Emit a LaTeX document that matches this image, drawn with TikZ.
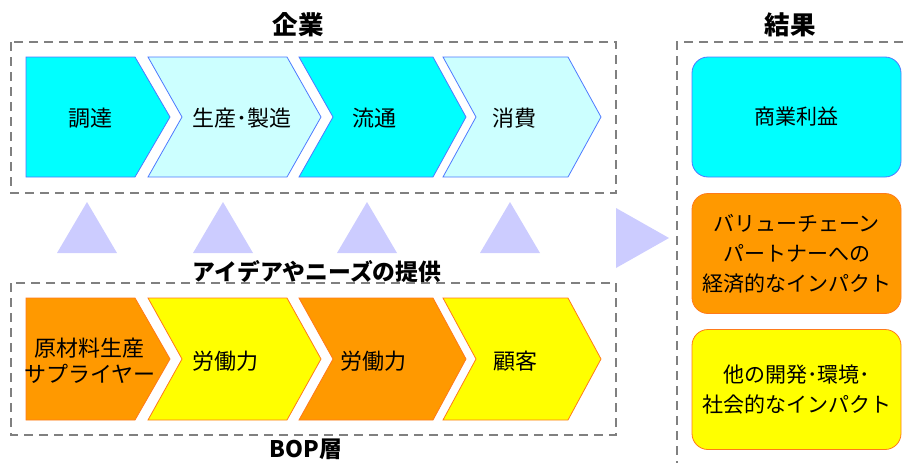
\documentclass[tikz,border=0pt]{standalone}
\usepackage{fontspec}
\setmainfont{Noto Sans CJK JP}
\usetikzlibrary{positioning}

\definecolor{kcyan}{HTML}{00FFFF}
\definecolor{klcyan}{HTML}{CCFFFF}
\definecolor{kblue}{HTML}{4D79FF}
\definecolor{korange}{HTML}{FF9900}
\definecolor{kyellow}{HTML}{FFFF00}
\definecolor{kedge}{HTML}{FF7A1A}
\definecolor{klav}{HTML}{CCCCFF}
\definecolor{kgray}{HTML}{808080}

\tikzset{
  dashbox/.style={draw=kgray, line width=2.5pt, dash pattern=on 9pt off 6pt},
  chev/.style={line width=0.8pt},
  chevtext/.style={font=\fontsize{22}{26}\selectfont, align=center, inner sep=0pt},
  result/.style={rounded corners=16pt, line width=0.8pt, minimum width=209pt, minimum height=120pt,
    font=\fontsize{21}{30}\selectfont, align=center},
  heading/.style={font=\fontsize{25.5}{28}\selectfont\bfseries, inner sep=0pt},
  hint/.style={fill=klav}
}

\begin{document}
\begin{tikzpicture}[x=1pt, y=-1pt]
  \useasboundingbox (0,0) rectangle (903,463);

  % dashed frames
  \draw[dashbox] (11,42) rectangle (616,193);
  \draw[dashbox] (11,283) rectangle (616,435);
  \draw[dashbox] (903,42) -- (677,42) -- (677,463);

  % company chain
  \draw[chev, draw=kblue, fill=kcyan] (26,57) -- (135,57) -- (170,117) -- (135,177) -- (26,177) -- cycle;
  \draw[chev, draw=kblue, fill=klcyan] (148,57) -- (287,57) -- (321,117) -- (287,177) -- (148,177) -- (182,117) -- cycle;
  \draw[chev, draw=kblue, fill=kcyan] (299,57) -- (433,57) -- (466,117) -- (433,177) -- (299,177) -- (333,117) -- cycle;
  \draw[chev, draw=kblue, fill=klcyan] (443,57) -- (568,57) -- (601,117) -- (568,177) -- (443,177) -- (476,117) -- cycle;
  \node[chevtext] (procure) at (90,118) {調達};
  \node[chevtext] (produce) at (242,118) {生産･製造};
  \node[chevtext] (distrib) at (374,118) {流通};
  \node[chevtext] (consume) at (514,118) {消費};

  % BOP chain
  \draw[chev, draw=kedge, fill=korange] (26,298) -- (135,298) -- (170,359) -- (135,420) -- (26,420) -- cycle;
  \draw[chev, draw=kedge, fill=kyellow] (148,298) -- (287,298) -- (321,359) -- (287,420) -- (148,420) -- (182,359) -- cycle;
  \draw[chev, draw=kedge, fill=korange] (299,298) -- (433,298) -- (466,359) -- (433,420) -- (299,420) -- (333,359) -- cycle;
  \draw[chev, draw=kedge, fill=kyellow] (443,298) -- (568,298) -- (601,359) -- (568,420) -- (443,420) -- (476,359) -- cycle;
  \node[chevtext] (supplier) at (90,361) {原材料生産\\サプライヤー};
  \node[chevtext] (labour1) at (225,361) {労働力};
  \node[chevtext] (labour2) at (373,361) {労働力};
  \node[chevtext] (customer) at (515,361) {顧客};

  % triangles
  \fill[hint] (57,253) -- (87,202) -- (117,253) -- cycle;
  \fill[hint] (193,253) -- (223,202) -- (253,253) -- cycle;
  \fill[hint] (337,253) -- (367,202) -- (397,253) -- cycle;
  \fill[hint] (480,253) -- (510,202) -- (540,253) -- cycle;
  \fill[hint] (616,208) -- (669,238) -- (616,268) -- cycle;

  % results
  \node[result, draw=kblue, fill=kcyan] (profit) at (796.5,117) {商業利益};
  \node[result, draw=kedge, fill=korange] (partner) at (796.5,253.5) {バリューチェーン\\パートナーへの\\経済的なインパクト};
  \node[result, draw=kedge, fill=kyellow] (social) at (796.5,389.5) {他の開発･環境･\\社会的なインパクト};

  % headings
  \node[heading] (firm) at (298,25) {企業};
  \node[heading] (outcome) at (790,25) {結果};
  \node[heading, font=\fontsize{22.8}{26}\selectfont\bfseries] (ideas) at (317,272) {アイデアやニーズの提供};
  \node[heading, font=\fontsize{22.8}{26}\selectfont\bfseries] (bop) at (306,449) {BOP層};
\end{tikzpicture}
\end{document}
